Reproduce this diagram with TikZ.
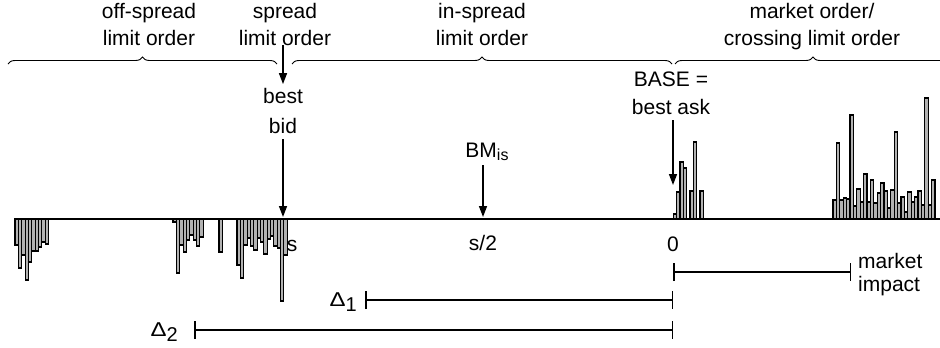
\documentclass[tikz,border=0pt]{standalone}
\usepackage{fontspec}
\usepackage{graphicx}
\setmainfont{Liberation Sans}
\usetikzlibrary{arrows.meta,decorations.pathreplacing}

\begin{document}
\begin{tikzpicture}[x=1pt,y=-1pt,
  lbl/.style={font=\fontsize{21}{26}\selectfont, align=center, inner sep=0pt},
  pointer/.style={line width=1.5pt, -{Triangle[length=11pt,width=8pt]}},
  axisline/.style={line width=1.6pt},
  bracket/.style={decorate, decoration={brace, amplitude=7pt}, line width=0.9pt},
  bar/.style={draw=black, fill=gray!60, line width=1.1pt},
  span/.style={line width=1.5pt, {Bar[width=18pt,line width=1.5pt]}-{Bar[width=18pt,line width=1.5pt]}}
]
\useasboundingbox (0,0) rectangle (940,348);

% ---- order classes along the top ----
\coordinate (b1a) at (8,64);   \coordinate (b1b) at (277,64);
\coordinate (b2a) at (292,64); \coordinate (b2b) at (672,64);
\coordinate (b3a) at (675,64); \coordinate (b3b) at (951,64);
\draw[bracket] (b1a) -- (b1b);
\draw[bracket] (b2a) -- (b2b);
\draw[bracket] (b3a) -- (b3b);

% multi-line labels are placed by the baseline of their last line
\node[lbl, anchor=base] (offlbl)    at (149,45) {off-spread\\limit order};
\node[lbl, anchor=base] (spreadlbl) at (285,45) {spread\\limit order};
\node[lbl, anchor=base] (inlbl)     at (482,45) {in-spread\\limit order};
\node[lbl, anchor=base] (mktlbl)    at (812,45) {market order/\\crossing limit order};

% ---- bid side of the book (bars hang below the price axis) ----
\foreach \x/\y in {15/245, 18.35/268, 21.7/255, 25.05/280, 28.4/262, 31.75/251,
                   35.1/251, 38.45/247, 41.8/242, 45.15/244,
                   173/222, 176.35/273, 179.7/245, 183.05/252, 186.4/240, 189.75/235,
                   193.1/240, 196.45/246, 199.8/237,
                   219/252,
                   237/265, 240.35/278, 243.7/245, 247.05/238, 250.4/246, 253.75/250,
                   257.1/238, 260.45/242, 263.8/254, 267.15/239, 270.5/236, 273.85/246,
                   277.2/248, 280.55/301, 283.9/255}
  \draw[bar] (\x,219) rectangle (\x+3.35,\y);

% ---- ask side of the book ----
\foreach \x/\y in {673.3/214, 676.65/192, 680/162, 683.35/168, 690/191, 693.35/142, 700/191,
                   833/200, 836.4/143, 839.8/200, 843.2/198, 846.6/199, 850/115,
                   853.4/206, 856.8/189, 860.2/202, 863.6/174, 867/202, 870.4/180,
                   873.8/203, 877.2/193, 880.6/183, 884/191, 887.4/208, 890.8/190,
                   894.2/132, 897.6/203, 901/197, 904.4/212, 907.8/192, 911.2/202,
                   914.6/197, 918/191, 921.4/205, 924.8/98, 928.2/205, 931.6/180}
  \draw[bar] (\x,219) rectangle (\x+3.35,\y);

% ---- price axis ----
\coordinate (axL) at (15,219);
\coordinate (axR) at (940,219);
\draw[axisline] (axL) -- (axR);

\node[lbl, anchor=base] (slbl)    at (292,251) {s};
\node[lbl, anchor=base] (halflbl) at (483,250) {s/2};
\node[lbl, anchor=base] (zerolbl) at (673,251) {0};

% ---- reference prices ----
\coordinate (bidtip)  at (283,217);
\coordinate (bmtip)   at (483,217);
\coordinate (basetip) at (673,185);

\node[lbl, anchor=base] (bestbid) at (283,133) {best\\[4pt]bid};
\node[lbl, anchor=base] (bmlbl)   at (487,157)
  {BM\raisebox{-3pt}{\fontsize{16}{16}\selectfont is}};
\node[lbl, anchor=base] (baselbl) at (671,114) {BASE =\\[2pt]best ask};

\draw[pointer, shorten >=3.5pt] (spreadlbl.south -| bidtip) -- (bestbid.north -| bidtip);
\draw[pointer, shorten <=6pt] (bestbid.south -| bidtip) -- (bidtip);
\draw[pointer, shorten <=5pt] (bmlbl.south -| bmtip) -- (bmtip);
\draw[pointer, shorten <=6pt] (baselbl.south -| basetip) -- (basetip);

% ---- distances from the base price ----
\coordinate (mi0) at (673,272); \coordinate (mi1) at (851,272);
\coordinate (d1a) at (365,300); \coordinate (d1b) at (673,300);
\coordinate (d2a) at (194,330); \coordinate (d2b) at (673,330);
\draw[span] (mi0) -- (mi1);
\draw[span] (d1a) -- (d1b);
\draw[span] (d2a) -- (d2b);

\node[lbl, anchor=base west, align=left] (milbl) at (858,291) {market\\[-3pt]impact};
\node[inner sep=0pt, anchor=base east] (d1lbl) at (357,306)
  {{\fontsize{20}{20}\selectfont\scalebox{1.2}[1]{Δ}}\raisebox{-5pt}{\fontsize{20}{20}\selectfont 1}};
\node[inner sep=0pt, anchor=base east] (d2lbl) at (178,336)
  {{\fontsize{20}{20}\selectfont\scalebox{1.2}[1]{Δ}}\raisebox{-5pt}{\fontsize{20}{20}\selectfont 2}};
\end{tikzpicture}
\end{document}
